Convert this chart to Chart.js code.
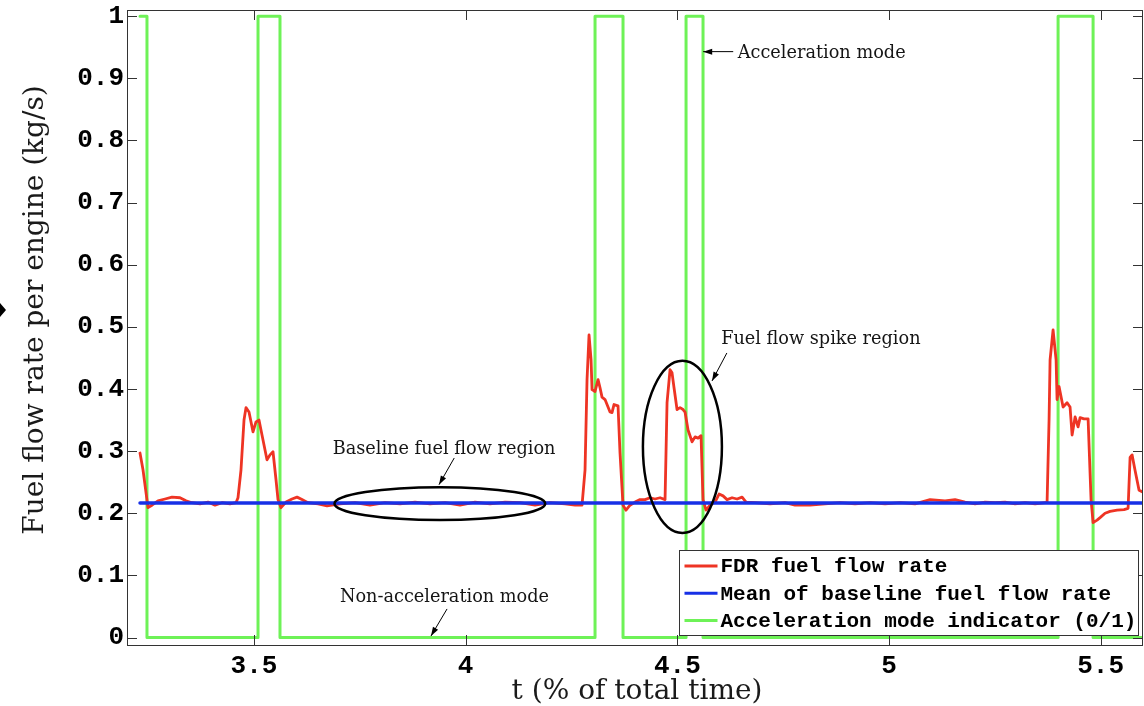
<!DOCTYPE html>
<html>
<head>
<meta charset="utf-8">
<script src="https://cdn.jsdelivr.net/npm/chart.js@4.4.1/dist/chart.umd.min.js"></script>
<style>
  html, body { margin: 0; padding: 0; background: #fff; }
  #wrap { width: 1144px; height: 706px; position: relative; }
</style>
</head>
<body>
<div id="wrap"><canvas id="fuelChart"></canvas></div>
<script>
// FDR fuel flow rate (kg/s) vs t (% of total time)
const fdrTime = [3.2307, 3.2378, 3.2496, 3.259, 3.2732, 3.2898, 3.3063, 3.3252, 3.3394, 3.3536,
  3.3725, 3.3914, 3.4079, 3.4244, 3.4433, 3.4575, 3.4622, 3.4693, 3.4764, 3.4811,
  3.4882, 3.4977, 3.5047, 3.5118, 3.5189, 3.5307, 3.5378, 3.5449, 3.552, 3.5567,
  3.5638, 3.5756, 3.5898, 3.6016, 3.6134, 3.6276, 3.6512, 3.6725, 3.7032, 3.7386,
  3.774, 3.8095, 3.845, 3.8804, 3.9158, 3.9513, 3.9867, 4.0221, 4.0576, 4.093,
  4.1284, 4.1639, 4.1993, 4.2347, 4.2584, 4.2749, 4.282, 4.2867, 4.2914, 4.2962,
  4.2985, 4.3056, 4.3127, 4.3174, 4.3221, 4.3292, 4.3363, 4.341, 4.3457, 4.3504,
  4.3599, 4.3646, 4.3717, 4.3788, 4.3882, 4.4001, 4.4119, 4.4237, 4.4355, 4.4473,
  4.4592, 4.471, 4.4757, 4.4828, 4.4875, 4.4922, 4.4993, 4.5064, 4.5135, 4.5182,
  4.5253, 4.5348, 4.5419, 4.549, 4.556, 4.5607, 4.5678, 4.5773, 4.5891, 4.5986,
  4.608, 4.6175, 4.6293, 4.6411, 4.653, 4.6624, 4.6836, 4.719, 4.7544, 4.778,
  4.8135, 4.8489, 4.8843, 4.9198, 4.9552, 4.9907, 5.0261, 5.0615, 5.097, 5.1324,
  5.156, 5.1797, 5.2033, 5.2269, 5.2506, 5.2742, 5.2978, 5.3214, 5.3451, 5.3687,
  5.3734, 5.3781, 5.3805, 5.3876, 5.3947, 5.397, 5.4017, 5.4112, 5.4207, 5.4277,
  5.4325, 5.4396, 5.4466, 5.4514, 5.4608, 5.4703, 5.4773, 5.4821, 5.4915, 5.4986,
  5.5104, 5.5222, 5.5388, 5.5553, 5.5648, 5.5695, 5.5742, 5.5813, 5.5907, 5.6002];
const fdrFlow = [0.297, 0.270, 0.209, 0.213, 0.220, 0.223, 0.226, 0.225, 0.220, 0.217,
  0.215, 0.218, 0.213, 0.217, 0.215, 0.217, 0.225, 0.270, 0.350, 0.370,
  0.363, 0.331, 0.347, 0.350, 0.326, 0.286, 0.294, 0.299, 0.254, 0.222,
  0.209, 0.218, 0.223, 0.226, 0.222, 0.217, 0.215, 0.212, 0.215, 0.217,
  0.213, 0.217, 0.215, 0.218, 0.215, 0.217, 0.213, 0.218, 0.215, 0.218,
  0.217, 0.213, 0.217, 0.215, 0.213, 0.213, 0.270, 0.415, 0.487, 0.447,
  0.399, 0.396, 0.415, 0.402, 0.387, 0.383, 0.371, 0.363, 0.362, 0.375,
  0.373, 0.297, 0.213, 0.205, 0.213, 0.218, 0.222, 0.222, 0.225, 0.223,
  0.225, 0.222, 0.378, 0.431, 0.426, 0.402, 0.367, 0.370, 0.367, 0.363,
  0.334, 0.315, 0.323, 0.321, 0.325, 0.222, 0.205, 0.213, 0.218, 0.231,
  0.228, 0.222, 0.225, 0.223, 0.226, 0.218, 0.217, 0.215, 0.217, 0.213,
  0.213, 0.215, 0.217, 0.215, 0.217, 0.215, 0.217, 0.215, 0.222, 0.220,
  0.222, 0.218, 0.215, 0.218, 0.217, 0.218, 0.215, 0.217, 0.215, 0.217,
  0.217, 0.350, 0.447, 0.495, 0.447, 0.383, 0.404, 0.371, 0.378, 0.371,
  0.326, 0.355, 0.339, 0.354, 0.352, 0.352, 0.222, 0.185, 0.189, 0.193,
  0.200, 0.203, 0.205, 0.206, 0.208, 0.290, 0.294, 0.269, 0.237, 0.234];

// mean of baseline fuel flow rate
const meanTime = [3.2307, 5.6];
const meanFlow = [0.2165, 0.2165];

// acceleration mode indicator, each value held until the next time
const accelTime = [3.2307, 3.2472, 3.5095, 3.5614, 4.3056, 4.3717, 4.5206, 4.5607, 5.3994, 5.4821, 5.6];
const accelMode = [1, 0, 1, 0, 1, 0, 1, 0, 1, 0, 0];

const seriesLabels = ['FDR fuel flow rate', 'Mean of baseline fuel flow rate', 'Acceleration mode indicator (0/1)'];

const xTickValues = [3.5, 4, 4.5, 5, 5.5];
const xTickLabels = ['3.5', '4', '4.5', '5', '5.5'];
const yTickValues = [0, 0.1, 0.2, 0.3, 0.4, 0.5, 0.6, 0.7, 0.8, 0.9, 1];
const yTickLabels = ['0', '0.1', '0.2', '0.3', '0.4', '0.5', '0.6', '0.7', '0.8', '0.9', '1'];

const xTitle = 't (% of total time)';
const yTitle = 'Fuel flow rate per engine (kg/s)';

// callouts, in data units
const notes = [
  { text: 'Acceleration mode', at: [4.841, 0.933], from: [4.632, 0.943], to: [4.561, 0.943] },
  { text: 'Fuel flow spike region', at: [4.839, 0.472], from: [4.617, 0.458], to: [4.582, 0.413] },
  { text: 'Baseline fuel flow region', at: [3.949, 0.295], from: [3.973, 0.289], to: [3.937, 0.246] },
  { text: 'Non-acceleration mode', at: [3.950, 0.0566], from: [3.956, 0.046], to: [3.918, 0.0024] }
];
const ellipses = [
  { c: [3.939, 0.2155], r: [0.2488, 0.0263] },
  { c: [4.512, 0.3069], r: [0.0933, 0.1385] }
];

const RED = '#ee3424';
const BLUE = '#1730e6';
const GREEN = '#6ef257';
const AXIS = '#333333';
const MONO = '"Liberation Mono", "Courier New", monospace';
const SERIF = '"DejaVu Serif", serif';

function toPoints(xs, ys) {
  return xs.map((x, i) => ({ x: x, y: ys[i] }));
}

function arrow(ctx, x1, y1, x2, y2) {
  const a = Math.atan2(y2 - y1, x2 - x1);
  ctx.beginPath();
  ctx.moveTo(x1, y1);
  ctx.lineTo(x2, y2);
  ctx.stroke();
  ctx.beginPath();
  ctx.moveTo(x2, y2);
  ctx.lineTo(x2 - 9 * Math.cos(a) + 3 * Math.sin(a), y2 - 9 * Math.sin(a) - 3 * Math.cos(a));
  ctx.lineTo(x2 - 9 * Math.cos(a) - 3 * Math.sin(a), y2 - 9 * Math.sin(a) + 3 * Math.cos(a));
  ctx.closePath();
  ctx.fill();
}

const matlabLook = {
  id: 'matlabLook',
  afterDatasetsDraw(chart) {
    const ctx = chart.ctx;
    const xs = chart.scales.x, ys = chart.scales.y;
    const a = chart.chartArea;
    const px = v => xs.getPixelForValue(v);
    const py = v => ys.getPixelForValue(v);

    ctx.save();

    // frame and inward ticks on all four sides
    ctx.strokeStyle = AXIS;
    ctx.lineWidth = 1;
    ctx.strokeRect(a.left + 0.5, a.top + 0.5, a.right - a.left - 1, a.bottom - a.top);
    ctx.beginPath();
    xTickValues.forEach(v => {
      const x = Math.round(px(v)) + 0.5;
      ctx.moveTo(x, a.bottom); ctx.lineTo(x, a.bottom - 10);
      ctx.moveTo(x, a.top); ctx.lineTo(x, a.top + 10);
    });
    yTickValues.forEach(v => {
      const y = Math.round(py(v)) + 0.5;
      ctx.moveTo(a.left, y); ctx.lineTo(a.left + 10, y);
      ctx.moveTo(a.right, y); ctx.lineTo(a.right - 10, y);
    });
    ctx.stroke();

    // ellipses and callouts
    ctx.strokeStyle = '#000';
    ctx.lineWidth = 2.5;
    ellipses.forEach(e => {
      const cx = px(e.c[0]), cy = py(e.c[1]);
      const rx = Math.abs(px(e.c[0] + e.r[0]) - cx);
      const ry = Math.abs(py(e.c[1] + e.r[1]) - cy);
      ctx.beginPath();
      ctx.ellipse(cx, cy, rx, ry, 0, 0, Math.PI * 2);
      ctx.stroke();
    });
    ctx.lineWidth = 1;
    ctx.fillStyle = '#000';
    notes.forEach(n => {
      arrow(ctx, px(n.from[0]), py(n.from[1]), px(n.to[0]), py(n.to[1]));
    });
    ctx.fillStyle = '#151515';
    ctx.font = '17.7px ' + SERIF;
    ctx.textAlign = 'center';
    ctx.textBaseline = 'alphabetic';
    notes.forEach(n => ctx.fillText(n.text, px(n.at[0]), py(n.at[1])));

    // axis titles
    ctx.fillStyle = '#1a1a1a';
    ctx.font = '28px ' + SERIF;
    ctx.fillText(xTitle, (a.left + a.right) / 2 + 2, 699);
    ctx.save();
    ctx.translate(43, 310);
    ctx.rotate(-Math.PI / 2);
    ctx.fillText(yTitle, 0, 0);
    ctx.restore();

    // legend box, bottom right inside the axes
    ctx.font = 'bold 21px ' + MONO;
    const colors = chart.data.datasets.map(d => d.borderColor);
    const textW = Math.max(...seriesLabels.map(s => ctx.measureText(s).width));
    const boxW = Math.round(43 + textW);
    const boxH = 85;
    const bx = Math.round(a.right - 5 - boxW) + 0.5;
    const by = Math.round(a.bottom - 10 - boxH) + 0.5;
    ctx.fillStyle = '#fff';
    ctx.fillRect(bx, by, boxW, boxH);
    ctx.strokeStyle = AXIS;
    ctx.strokeRect(bx, by, boxW, boxH);
    ctx.textAlign = 'left';
    ctx.textBaseline = 'middle';
    seriesLabels.forEach((s, i) => {
      const ry = by + 15.5 + i * 27.3;
      ctx.strokeStyle = colors[i];
      ctx.lineWidth = 3;
      ctx.beginPath();
      ctx.moveTo(bx + 5, ry);
      ctx.lineTo(bx + 38, ry);
      ctx.stroke();
      ctx.fillStyle = '#000';
      ctx.fillText(s, bx + 41, ry + 1);
    });

    // small pointer mark at the left page edge
    ctx.fillStyle = '#000';
    ctx.beginPath();
    ctx.moveTo(0, 303);
    ctx.lineTo(6, 310);
    ctx.lineTo(0, 317);
    ctx.closePath();
    ctx.fill();

    ctx.restore();
  }
};

const ctx = document.getElementById('fuelChart').getContext('2d');
new Chart(ctx, {
  type: 'line',
  data: {
    datasets: [
      { label: seriesLabels[0], data: toPoints(fdrTime, fdrFlow), borderColor: RED, borderWidth: 2.8, order: 1 },
      { label: seriesLabels[1], data: toPoints(meanTime, meanFlow), borderColor: BLUE, borderWidth: 3.5, order: 0 },
      { label: seriesLabels[2], data: toPoints(accelTime, accelMode), borderColor: GREEN, borderWidth: 3, stepped: 'before', order: 2 }
    ]
  },
  options: {
    responsive: true,
    maintainAspectRatio: false,
    animation: false,
    events: [],
    layout: { padding: { top: 10, right: 1, left: 0, bottom: 0 } },
    elements: {
      point: { radius: 0 },
      line: { tension: 0, borderJoinStyle: 'round', borderCapStyle: 'round' }
    },
    plugins: {
      legend: { display: false },
      tooltip: { enabled: false }
    },
    scales: {
      x: {
        type: 'linear',
        min: 3.2,
        max: 5.6,
        grid: { display: false, drawTicks: false },
        border: { display: false },
        afterBuildTicks: s => { s.ticks = xTickValues.map(v => ({ value: v })); },
        afterFit: s => { s.height = 61; s.paddingLeft = 0; s.paddingRight = 0; },
        ticks: {
          autoSkip: false,
          maxRotation: 0,
          padding: 6,
          color: '#000',
          font: { family: MONO, size: 26, weight: 'bold' },
          callback: v => xTickLabels[xTickValues.indexOf(v)]
        }
      },
      y: {
        type: 'linear',
        min: -0.012,
        max: 1.01,
        grid: { display: false, drawTicks: false },
        border: { display: false },
        afterBuildTicks: s => { s.ticks = yTickValues.map(v => ({ value: v })); },
        afterFit: s => { s.width = 127; s.paddingTop = 0; s.paddingBottom = 0; },
        ticks: {
          autoSkip: false,
          padding: 3,
          color: '#000',
          font: { family: MONO, size: 26, weight: 'bold' },
          callback: v => yTickLabels[yTickValues.indexOf(v)]
        }
      }
    }
  },
  plugins: [matlabLook]
});
</script>
</body>
</html>
